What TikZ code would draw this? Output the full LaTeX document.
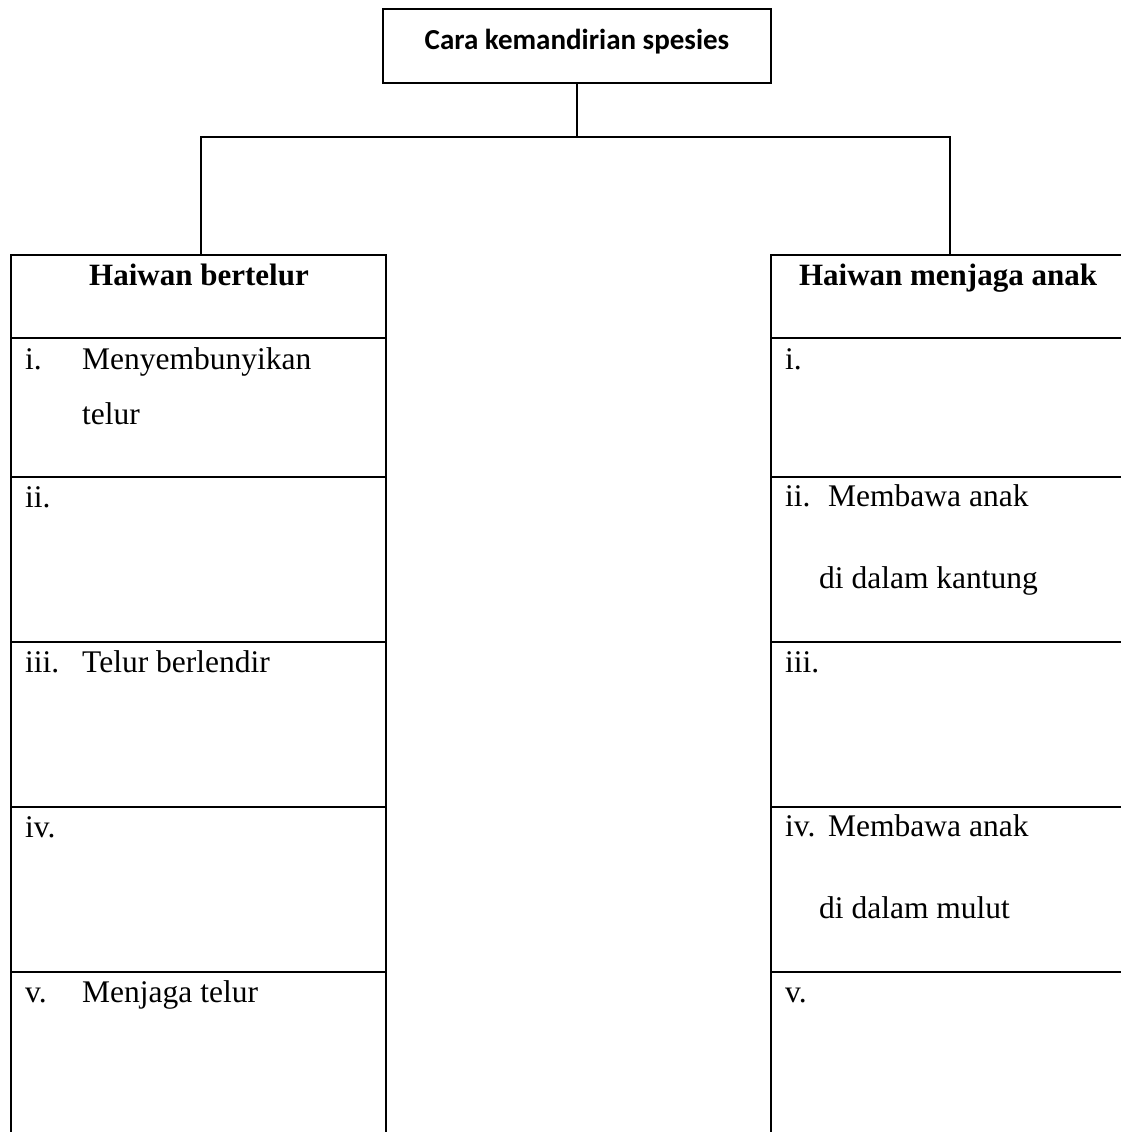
\documentclass[tikz,border=0pt]{standalone}
\usepackage{fontspec}
\setmainfont{Liberation Serif}
\newfontfamily\titlefont{Carlito}
\usepackage{tikz}
\usetikzlibrary{calc}

\tikzset{
  topbox/.style={draw, line width=1.8pt, minimum width=388pt, minimum height=74pt, inner sep=0pt},
  toptext/.style={anchor=base, inner sep=0pt, font=\titlefont\bfseries\fontsize{29}{34}\selectfont},
  headtext/.style={anchor=base, inner sep=0pt, font=\bfseries\fontsize{31}{36}\selectfont},
  rowtext/.style={anchor=base west, inner sep=0pt, font=\fontsize{31.5}{36}\selectfont},
  link/.style={line width=1.5pt},
  rule/.style={line width=2.6pt}
}

\begin{document}
\begin{tikzpicture}[x=1pt, y=-1pt]

\useasboundingbox (0,0) rectangle (1121,1132);

% Top box
\node[topbox] (top) at (577,46) {};
\node[toptext] (toptitle) at (577,50) {Cara kemandirian spesies};

% Branches
\coordinate (split) at (top.south |- 0,137);
\coordinate (ltop) at (201,255);
\coordinate (rtop) at (950,255);
\draw[link] (top.south) -- (split);
\draw[link] (ltop) |- (split) -| (rtop);

% Left table
\draw[rule] (11,1132) -- (11,255) -- (386,255) -- (386,1132);
\foreach \y in {338,477,642,807,972}
  \draw[rule] (11,\y) -- (386,\y);

% Right table
\draw[rule] (1121,255) -- (771,255) -- (771,1132);
\foreach \y in {338,477,642,807,972}
  \draw[rule] (771,\y) -- (1121,\y);

% Left texts
\node[headtext] (lhead) at (199,285) {Haiwan bertelur};
\node[rowtext] (li) at (25,369) {i.};
\node[rowtext] (lia) at (82,369) {Menyembunyikan};
\node[rowtext] (lib) at (82,424) {telur};
\node[rowtext] (lii) at (25,507) {ii.};
\node[rowtext] (liii) at (25,672) {iii.};
\node[rowtext] (liiia) at (82,672) {Telur berlendir};
\node[rowtext] (liv) at (25,837) {iv.};
\node[rowtext] (lv) at (25,1002) {v.};
\node[rowtext] (lva) at (82,1002) {Menjaga telur};

% Right texts
\node[headtext] (rhead) at (948,285) {Haiwan menjaga anak};
\node[rowtext] (ri) at (785,369) {i.};
\node[rowtext] (rii) at (785,506) {ii.};
\node[rowtext] (riia) at (828,506) {Membawa anak};
\node[rowtext] (riib) at (819,588) {di dalam kantung};
\node[rowtext] (riii) at (785,672) {iii.};
\node[rowtext] (riv) at (785,836) {iv.};
\node[rowtext] (riva) at (828,836) {Membawa anak};
\node[rowtext] (rivb) at (819,918) {di dalam mulut};
\node[rowtext] (rv) at (785,1002) {v.};

\end{tikzpicture}
\end{document}
